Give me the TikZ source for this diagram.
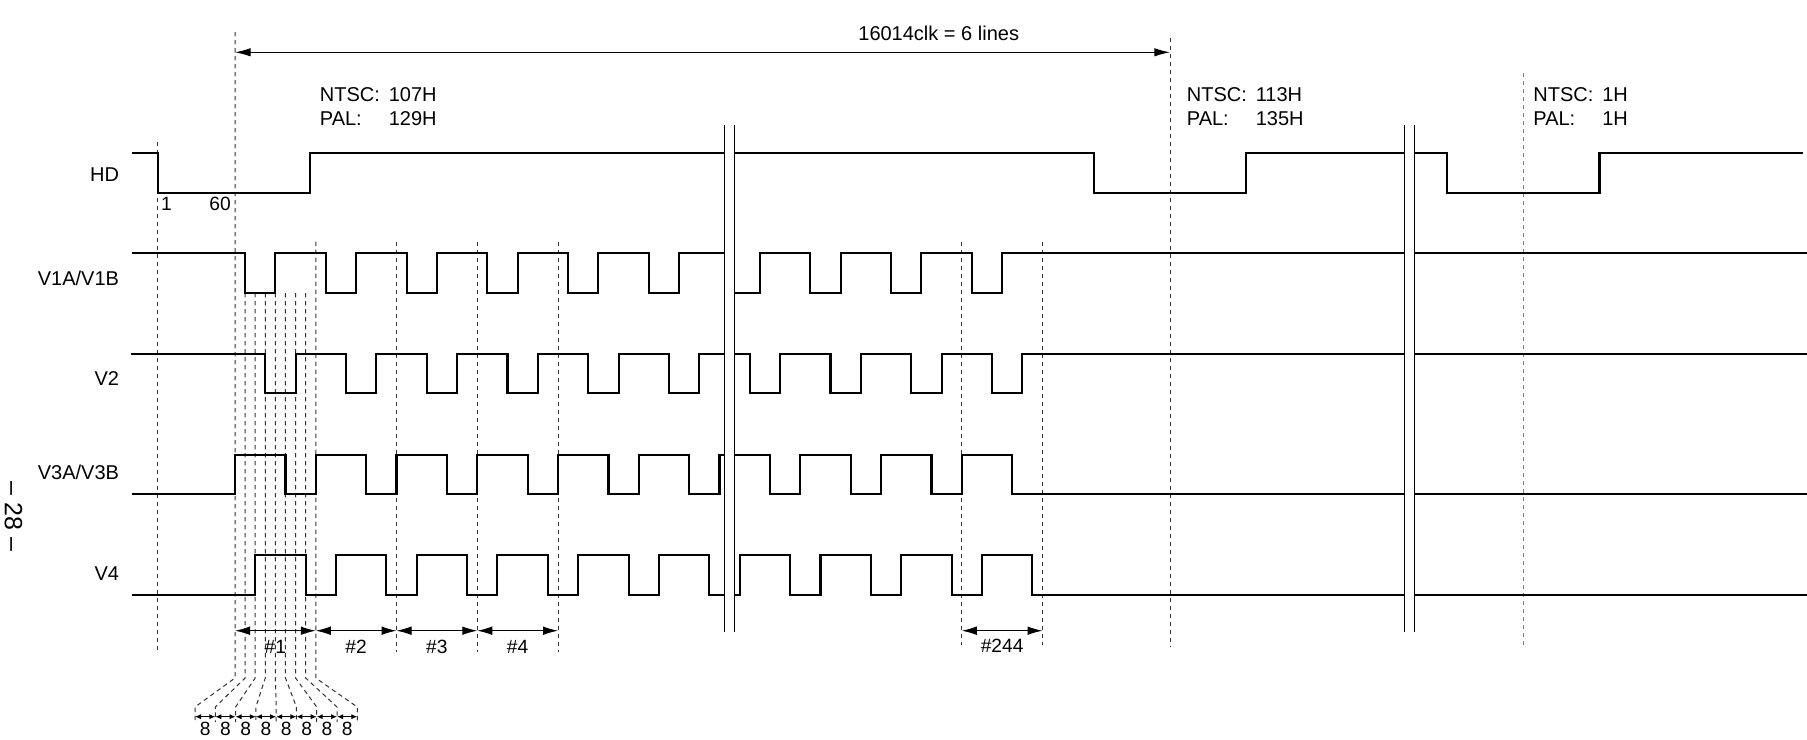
\documentclass[tikz,border=0pt]{standalone}
\usepackage{fontspec}
\setmainfont{Liberation Sans}
\usetikzlibrary{arrows.meta}
\begin{document}
\begin{tikzpicture}[x=0.5pt,y=-0.5pt,
  sig/.style={line width=1.05pt, line join=miter},
  guide/.style={black!80, line width=0.5pt, dash pattern=on 2.2pt off 1.8pt},
  guidelight/.style={black!50, line width=0.7pt, dash pattern=on 2.2pt off 1.8pt},
  brk/.style={line width=0.6pt},
  dim/.style={line width=0.5pt, {Latex[length=7.5pt,width=4.3pt]}-{Latex[length=7.5pt,width=4.3pt]}},
  dimtop/.style={line width=0.5pt, {Latex[length=7.8pt,width=4.2pt]}-{Latex[length=7.8pt,width=4.2pt]}},
  dimsmall/.style={line width=0.5pt, {Latex[length=3pt,width=2.6pt]}-{Latex[length=3pt,width=2.6pt]}},
  lbl/.style={inner sep=0pt, font=\fontsize{10}{12}\selectfont},
  sml/.style={inner sep=0pt, font=\fontsize{9.6}{11}\selectfont},
]
\useasboundingbox (0,0) rectangle (1807,739);

% ---------- guide lines (dashed) ----------
\draw[guide] (157.7,142) -- (157.7,650);
\foreach \i in {0,...,8}{
  \pgfmathsetmacro{\xt}{235+\i*10.094}
  \pgfmathsetmacro{\xb}{195+\i*20.29}
  \pgfmathsetmacro{\ys}{\i==0 ? 32 : (\i==8 ? 241.7 : 293)}
  \draw[guide] (\xt,\ys) -- (\xt,678) -- (\xb,707) -- (\xb,722);
}
\foreach \xx in {396.5,477.25,558}{
  \draw[guide] (\xx,241.7) -- (\xx,652);
}
\draw[guide] (961.75,241.7) -- (961.75,645);
\draw[guide] (1042.5,241.7) -- (1042.5,645);
\draw[guide] (1170,38) -- (1170,647);
\draw[guidelight] (1523.6,72.7) -- (1523.6,645);

% ---------- signals ----------
% HD
\draw[sig] (132,153.3) -- (157.7,153.3) -- (157.7,192.7) -- (310,192.7) -- (310,153.3)
  -- (1093.6,153.3) -- (1093.6,192.7) -- (1245.7,192.7) -- (1245.7,153.3)
  -- (1447,153.3) -- (1447,192.7) -- (1599.5,192.7) -- (1599.5,153.3) -- (1803,153.3);
% V1A/V1B
\draw[sig] (132,253.3) \foreach \k in {0,...,9}{
  -- ({235+\k*80.75+10.094},253.3) -- ({235+\k*80.75+10.094},292.7)
  -- ({235+\k*80.75+40.375},292.7) -- ({235+\k*80.75+40.375},253.3)} -- (1807,253.3);
% V2
\draw[sig] (131,354) \foreach \k in {0,...,9}{
  -- ({235+\k*80.75+30.28},354) -- ({235+\k*80.75+30.28},393.3)
  -- ({235+\k*80.75+60.56},393.3) -- ({235+\k*80.75+60.56},354)} -- (1807,354);
% V3A/V3B
\draw[sig] (132,494) \foreach \k in {0,...,9}{
  -- ({235+\k*80.75},494) -- ({235+\k*80.75},455)
  -- ({235+\k*80.75+50.47},455) -- ({235+\k*80.75+50.47},494)} -- (1807,494);
% V4
\draw[sig] (132,594.7) \foreach \k in {0,...,9}{
  -- ({235+\k*80.75+20.19},594.7) -- ({235+\k*80.75+20.19},555.3)
  -- ({235+\k*80.75+70.66},555.3) -- ({235+\k*80.75+70.66},594.7)} -- (1807,594.7);

% ---------- breaks ----------
\fill[white] (724.3,128) rectangle (734.3,628);
\fill[white] (1404.4,128) rectangle (1414.1,628);
\draw[brk] (724.3,125) -- (724.3,631.7);
\draw[brk] (734.3,125) -- (734.3,631.7);
\draw[brk] (1404.4,125) -- (1404.4,631.7);
\draw[brk] (1414.1,125) -- (1414.1,631.7);

% ---------- signal labels ----------
\node[lbl, anchor=base east] (lHD) at (119.4,181.7) {HD};
\node[lbl, anchor=base east] (lV1) at (119.4,285) {V1A/V1B};
\node[lbl, anchor=base east] (lV2) at (119.4,385.7) {V2};
\node[lbl, anchor=base east] (lV3) at (119.4,479.3) {V3A/V3B};
\node[lbl, anchor=base east] (lV4) at (119.4,580) {V4};

\node[sml, anchor=base] (n1) at (166.5,210) {1};
\node[sml, anchor=base] (n60) at (220,210) {60};

% ---------- top dimension ----------
\coordinate (topL) at (235,52.3);
\coordinate (topR) at (1170,52.3);
\draw[dimtop] (topL) -- (topR);
\node[lbl, anchor=base] (clk) at (938.7,40) {16014clk = 6 lines};

% ---------- NTSC / PAL notes ----------
\node[lbl, anchor=base west] (na1) at (319.5,101.7) {NTSC:};
\node[lbl, anchor=base west] (na2) at (388.4,101.7) {107H};
\node[lbl, anchor=base west] (pa1) at (319.5,125.7) {PAL:};
\node[lbl, anchor=base west] (pa2) at (388.4,125.7) {129H};
\node[lbl, anchor=base west] (nb1) at (1186.5,101.7) {NTSC:};
\node[lbl, anchor=base west] (nb2) at (1255.4,101.7) {113H};
\node[lbl, anchor=base west] (pb1) at (1186.5,125.7) {PAL:};
\node[lbl, anchor=base west] (pb2) at (1255.4,125.7) {135H};
\node[lbl, anchor=base west] (nc1) at (1533,101.7) {NTSC:};
\node[lbl, anchor=base west] (nc2) at (1601.9,101.7) {1H};
\node[lbl, anchor=base west] (pc1) at (1533,125.7) {PAL:};
\node[lbl, anchor=base west] (pc2) at (1601.9,125.7) {1H};

% ---------- period arrows ----------
\foreach \k/\t in {0/\#1,1/\#2,2/\#3,3/\#4}{
  \coordinate (pA\k) at ({235+\k*80.75},630.7);
  \coordinate (pB\k) at ({235+(\k+1)*80.75},630.7);
  \draw[dim] (pA\k) -- (pB\k);
  \node[sml, anchor=base] (pl\k) at ({235+(\k+0.5)*80.75},653) {\t};
}
\coordinate (pA9) at (961.75,630.7);
\coordinate (pB9) at (1042.5,630.7);
\draw[dim] (pA9) -- (pB9);
\node[sml, anchor=base] (pl9) at (1002.1,652.7) {\#244};

% ---------- 8-clock arrows ----------
\foreach \i in {0,...,7}{
  \coordinate (cA\i) at ({195+\i*20.29},716.7);
  \coordinate (cB\i) at ({195+(\i+1)*20.29},716.7);
  \draw[dimsmall] (cA\i) -- (cB\i);
  \node[sml, anchor=base] (cl\i) at ({195+(\i+0.5)*20.29},735) {8};
}

% ---------- page number ----------
\node[rotate=-90, inner sep=0pt, font=\fontsize{12.5}{14}\selectfont] (page) at (13.5,516.7) {– 28 –};
\end{tikzpicture}
\end{document}
